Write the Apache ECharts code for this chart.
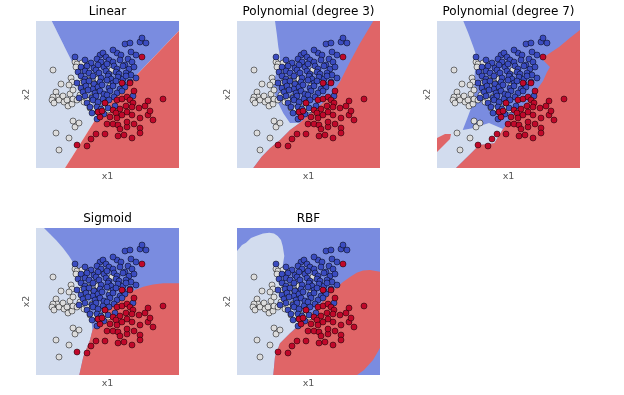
<!DOCTYPE html>
<html>
<head>
<meta charset="utf-8">
<script src="https://cdn.jsdelivr.net/npm/echarts@6/dist/echarts.min.js"></script>
<style>html,body{margin:0;padding:0;background:#fff;}#c{width:624px;height:395px;}</style>
</head>
<body>
<div id="c"></div>
<script>
// ---- data (feature space coordinates, x1 rightwards, x2 downwards in this frame) ----
const panelTitles = ['Linear', 'Polynomial (degree 3)', 'Polynomial (degree 7)', 'Sigmoid', 'RBF'];

const whitePoints = [[17,49],[25,63],[35,57],[36,61],[33,64],[39,41],[41,43],[46,42],[40,46],[20,71],[21,76],[17,76],[16,79],[18,82],[23,79],[27,75],[28,81],[31,79],[32,85],[36,83],[37,78],[41,79],[34,73],[37,69],[46,62],[47,67],[48,59],[52,59],[57,62],[62,58],[76,49],[74,65],[48,81],[54,87],[58,88],[62,85],[69,87],[72,89],[37,100],[39,106],[43,102],[20,112],[33,117],[23,129],[51,79],[44,74],[56,76]];

const bluePoints = [[89,23],[94,22],[104,21],[106,17],[110,22],[95,31],[100,34],[81,32],[85,34],[77,29],[64,34],[67,32],[39,36],[92,38],[70,36],
[49,39],[55,42],[61,38],[65,41],[73,39],[77,41],[84,39],[89,44],[96,41],
[45,46],[51,45],[58,47],[62,44],[68,46],[71,43],[78,45],[81,48],[87,45],[93,48],[98,46],
[42,51],[49,50],[53,52],[60,49],[63,52],[70,50],[73,53],[80,51],[83,53],[90,52],[95,54],
[45,55],[49,58],[57,55],[65,57],[72,55],[75,58],[82,56],[87,58],[90,55],[100,57],
[41,62],[48,61],[53,60],[58,63],[64,61],[71,59],[77,62],[80,60],[87,63],[94,61],
[45,67],[50,65],[57,68],[62,66],[66,64],[73,67],[77,65],[84,68],[89,66],
[47,71],[52,69],[59,72],[64,70],[68,73],[74,70],[81,72],[86,70],[97,75],
[43,77],[49,75],[56,77],[60,75],[67,78],[71,74],[78,76],
[51,82],[57,79],[62,81],[69,82],[73,79],[79,85],
[54,86],[61,86],[65,88],[72,87],
[56,92],[62,91],[68,93],[61,98]];

const redPoints = [[106,36],[86,62],[94,62],[98,70],[69,82],[81,79],[86,78],[91,76],[94,79],[97,82],[112,80],[127,78],[84,88],[90,85],[96,86],[103,87],[77,89],[80,92],[74,96],[81,97],[86,94],[91,91],[96,94],[104,97],[112,94],[114,90],[117,99],[64,96],[71,103],[77,103],[82,104],[84,108],[91,106],[91,101],[98,103],[104,107],[60,113],[69,113],[82,115],[88,114],[96,117],[104,112],[41,124],[51,125],[55,118],[62,91],[109,85],[66,90]];

// ---- decision regions (boundary vertices) ----
const plotFrame = [[0,0],[143,0],[143,147],[0,147]];
const linearLight = [[0,0],[15.7,0],[62.3,94],[29,147],[0,147]];
const linearBlue = [[15.7,0],[143,0],[143,9.7],[62.3,94]];
const linearRed = [[62.3,94],[143,9.7],[143,147],[29,147]];

const poly3Light = [[0,0],[38,0],[39.7,12.3],[41.3,25.7],[43,35.7],[42.3,45.7],[38,55.7],[36.3,65.7],[39.7,79],[46.3,92.3],[53,102],[63,101.7],[53,109],[43,119],[33,127.3],[24.7,135.7],[16.3,147],[0,147]];
const poly3Red = [[63,101.7],[79.7,87.3],[93,75.7],[103,60.7],[113,40.7],[123,22.3],[136.3,0],[143,0],[143,147],[16.3,147],[24.7,135.7],[33,127.3],[43,119],[53,109]];

const poly7Light = [[0,0],[26.3,0],[31.3,12.3],[36.3,25.7],[39.7,35.7],[38,49],[37,62],[38,70],[36,82],[30,98],[25.7,109],[35.7,107.3],[52,102],[66,108],[57.3,122.3],[42.3,124],[32.3,134],[19,147],[0,147]];
const poly7Red = [[66,108],[72,100],[80,89],[92,80],[99,70],[106,60],[110,51],[113,46],[107,40],[105,36],[110,34],[122,26],[134,16],[143,9],[143,147],[19,147],[32.3,134],[42.3,124],[57.3,122.3]];
const poly7RedIsland = [[0,117],[8,113],[14,113],[13,118],[6,125],[0,131]];

const sigmoidLight = [[0,0],[8,0],[14,6],[20,12],[27,20],[33,28],[38,36],[42,44],[46,53],[49,62],[52,72],[54,82],[55.5,92],[56.5,102],[54,112],[47.3,128.7],[43.3,147],[0,147]];
const sigmoidRed = [[56.5,102],[65,88],[74,78.7],[82,72],[90.7,67],[99,62],[107.3,58.7],[117,56.5],[127.3,55.3],[143,55.3],[143,147],[43.3,147],[47.3,128.7],[54,112]];

const rbfLight = [[0,23],[5,17],[9,14.7],[14,10],[19,8],[26,5.5],[32.3,4.7],[37,5.5],[40.7,8],[44,12],[45.7,18],[47.3,28],[45.7,38],[43,45.3],[46.3,58.7],[51.3,72],[58,85.3],[63,95.3],[53,105.3],[43,115.3],[38,128.7],[36.3,147],[0,147]];
const rbfRed = [[63,97],[72,88],[79.7,80.3],[86,73],[93,65.3],[100,59],[106.3,53.7],[113,49],[119.7,44.7],[126,42.5],[133,42],[143,43.7],[143,120],[136,132],[127,142],[120,147],[36.3,147],[38,128.7],[43,115.3],[53,105.3]];

// ---- styling ----
const C_LIGHT = '#d2dcee', C_BLUE = '#7a8ce0', C_RED = '#e06567';
const P_WHITE = '#dddddd', P_BLUE = '#3b4cc0', P_RED = '#c0082a';

const panelRegions = [
  [[linearLight, C_LIGHT], [linearBlue, C_BLUE], [linearRed, C_RED]],
  [[plotFrame, C_BLUE], [poly3Light, C_LIGHT], [poly3Red, C_RED]],
  [[plotFrame, C_BLUE], [poly7Light, C_LIGHT], [poly7Red, C_RED], [poly7RedIsland, C_RED]],
  [[plotFrame, C_BLUE], [sigmoidLight, C_LIGHT], [sigmoidRed, C_RED]],
  [[plotFrame, C_BLUE], [rbfLight, C_LIGHT], [rbfRed, C_RED]]
];

const layout = [
  {left: 36, top: 21}, {left: 237, top: 21}, {left: 437, top: 21},
  {left: 36, top: 228}, {left: 237, top: 228}
];
const PW = 143, PH = 147;
const FONT = 'DejaVu Sans';

const grid = [], xAxis = [], yAxis = [], series = [], graphic = [];
layout.forEach((p, i) => {
  grid.push({left: p.left, top: p.top, width: PW, height: PH});
  xAxis.push({
    gridIndex: i, type: 'value', min: 0, max: 143,
    axisLine: {show: false}, axisTick: {show: false}, axisLabel: {show: false}, splitLine: {show: false},
    name: 'x1', nameLocation: 'middle', nameGap: 4,
    nameTextStyle: {color: '#555', fontSize: 9.5, fontFamily: FONT}
  });
  yAxis.push({
    gridIndex: i, type: 'value', min: 0, max: 147, inverse: true,
    axisLine: {show: false}, axisTick: {show: false}, axisLabel: {show: false}, splitLine: {show: false},
    name: 'x2', nameLocation: 'middle', nameGap: 4,
    nameTextStyle: {color: '#555', fontSize: 9.5, fontFamily: FONT}
  });
  graphic.push({
    type: 'text', x: p.left + PW / 2, y: p.top - 9,
    style: {text: panelTitles[i], textAlign: 'center', textVerticalAlign: 'middle',
      fontSize: 12, fontFamily: FONT, fill: '#000'}
  });
  panelRegions[i].forEach(([poly, color], k) => {
    series.push({
      type: 'custom', xAxisIndex: i, yAxisIndex: i, silent: true, z: 1 + k * 0.01,
      data: [[0, 0]],
      renderItem: (params, api) => ({
        type: 'polygon',
        shape: {points: poly.map(pt => api.coord(pt))},
        style: {fill: color}
      })
    });
  });
  [[whitePoints, P_WHITE], [bluePoints, P_BLUE], [redPoints, P_RED]].forEach(([pts, color]) => {
    series.push({
      type: 'scatter', xAxisIndex: i, yAxisIndex: i, z: 5, silent: true,
      data: pts, symbolSize: 6,
      itemStyle: {color: color, borderColor: '#000', borderWidth: 0.5, opacity: 1}
    });
  });
});

const chart = echarts.init(document.getElementById('c'), null, {renderer: 'canvas'});
chart.setOption({animation: false, grid, xAxis, yAxis, series, graphic});
</script>
</body>
</html>
